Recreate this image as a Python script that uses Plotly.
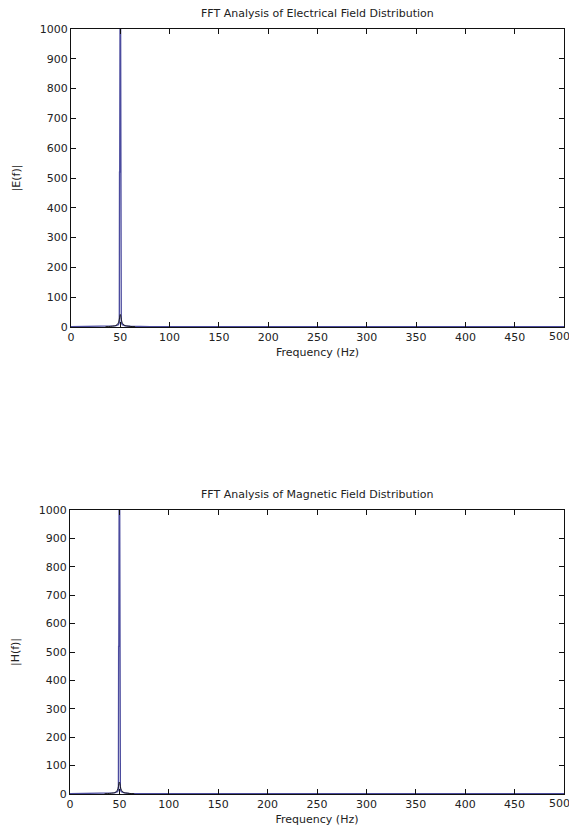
import plotly.graph_objects as go

# Blue FFT magnitude (sparse reading of the plotted spectrum)
freq_blue = [0, 20, 40, 45, 48, 49, 49.2, 49.4, 50, 50.6, 50.8, 51, 52, 55, 60, 80, 150, 300, 500]
E_blue = [1, 1.5, 2.5, 4, 8, 15, 520, 520, 1500, 520, 520, 15, 8, 4, 2.5, 1.5, 1, 1, 1]
H_blue = [1, 1.5, 2.5, 4, 8, 15, 520, 520, 1500, 520, 520, 15, 8, 4, 2.5, 1.5, 1, 1, 1]

# Black leakage envelope around 50 Hz
freq_black = [35, 40, 44, 46, 47, 48, 49, 49.5, 50, 50.5, 51, 52, 53, 54, 56, 60, 65]
E_black = [1, 2, 4, 6, 9, 14, 26, 36, 42, 36, 26, 14, 9, 6, 4, 2, 1]
H_black = [1, 2, 4, 6, 9, 14, 26, 36, 42, 36, 26, 14, 9, 6, 4, 2, 1]

titles = ["FFT Analysis of Electrical Field Distribution", "FFT Analysis of Magnetic Field Distribution"]
ylabels = ["|E(f)|", "|H(f)|"]
xticks = [0, 50, 100, 150, 200, 250, 300, 350, 400, 450, 500]
yticks = [0, 100, 200, 300, 400, 500, 600, 700, 800, 900, 1000]

OFF = 8  # page body margin
W, H = 577 - OFF, 834 - 2 * OFF
fig = go.Figure()

blue = "#4b4b9e"
font = dict(family="DejaVu Sans, Verdana, sans-serif", size=11, color="#222222")

# pixel boxes in window coords: (left, right, top, bottom)
boxes = [(71, 564, 29, 327), (70, 564, 510, 794)]
series = [(E_blue, E_black), (H_blue, H_black)]

xtext = [str(v) for v in xticks[:-1]] + [""]

for i, ((l, r, t, b), (yb, yk)) in enumerate(zip(boxes, series)):
    l, r, t, b = l - OFF, r - OFF, t - OFF, b - OFF
    xa = "x" if i == 0 else "x2"
    ya = "y" if i == 0 else "y2"
    fig.add_trace(go.Scatter(x=freq_blue, y=yb, mode="lines", line=dict(color=blue, width=1.3),
                             xaxis=xa, yaxis=ya, showlegend=False))
    fig.add_trace(go.Scatter(x=freq_black, y=yk, mode="lines", line=dict(color="#111111", width=0.9, shape="spline"),
                             xaxis=xa, yaxis=ya, showlegend=False))
    axkw = dict(showgrid=False, zeroline=False, showline=True, linecolor="#111111", linewidth=1,
                mirror="ticks", ticks="inside", ticklen=5, tickcolor="#111111", tickfont=font,
                automargin=False)
    xname = "xaxis" if i == 0 else "xaxis2"
    yname = "yaxis" if i == 0 else "yaxis2"
    fig.layout[xname] = dict(domain=[l / W, r / W], range=[0, 500], tickvals=xticks, ticktext=xtext,
                             anchor=ya, title=dict(text="Frequency (Hz)", font=font, standoff=5), **axkw)
    fig.layout[yname] = dict(domain=[1 - b / H, 1 - t / H], range=[0, 1000], tickvals=yticks,
                             anchor=xa, title=dict(text=ylabels[i], font=font, standoff=16), **axkw)
    fig.add_annotation(text=titles[i], x=(l + r) / 2 / W, y=1 - (t - 16) / H, xref="paper", yref="paper",
                       showarrow=False, font=font, xanchor="center", yanchor="middle")
    # last x tick label, nudged left so it stays inside the window
    fig.add_annotation(text=str(xticks[-1]), x=xticks[-1], xref=xa, y=1 - b / H, yref="paper",
                       showarrow=False, font=font, xanchor="center", yanchor="top", xshift=-5, yshift=-1)

fig.update_layout(width=W, height=H, margin=dict(l=0, r=0, t=0, b=0, autoexpand=False),
                  paper_bgcolor="white", plot_bgcolor="white", showlegend=False)

fig.write_html("out.html")
